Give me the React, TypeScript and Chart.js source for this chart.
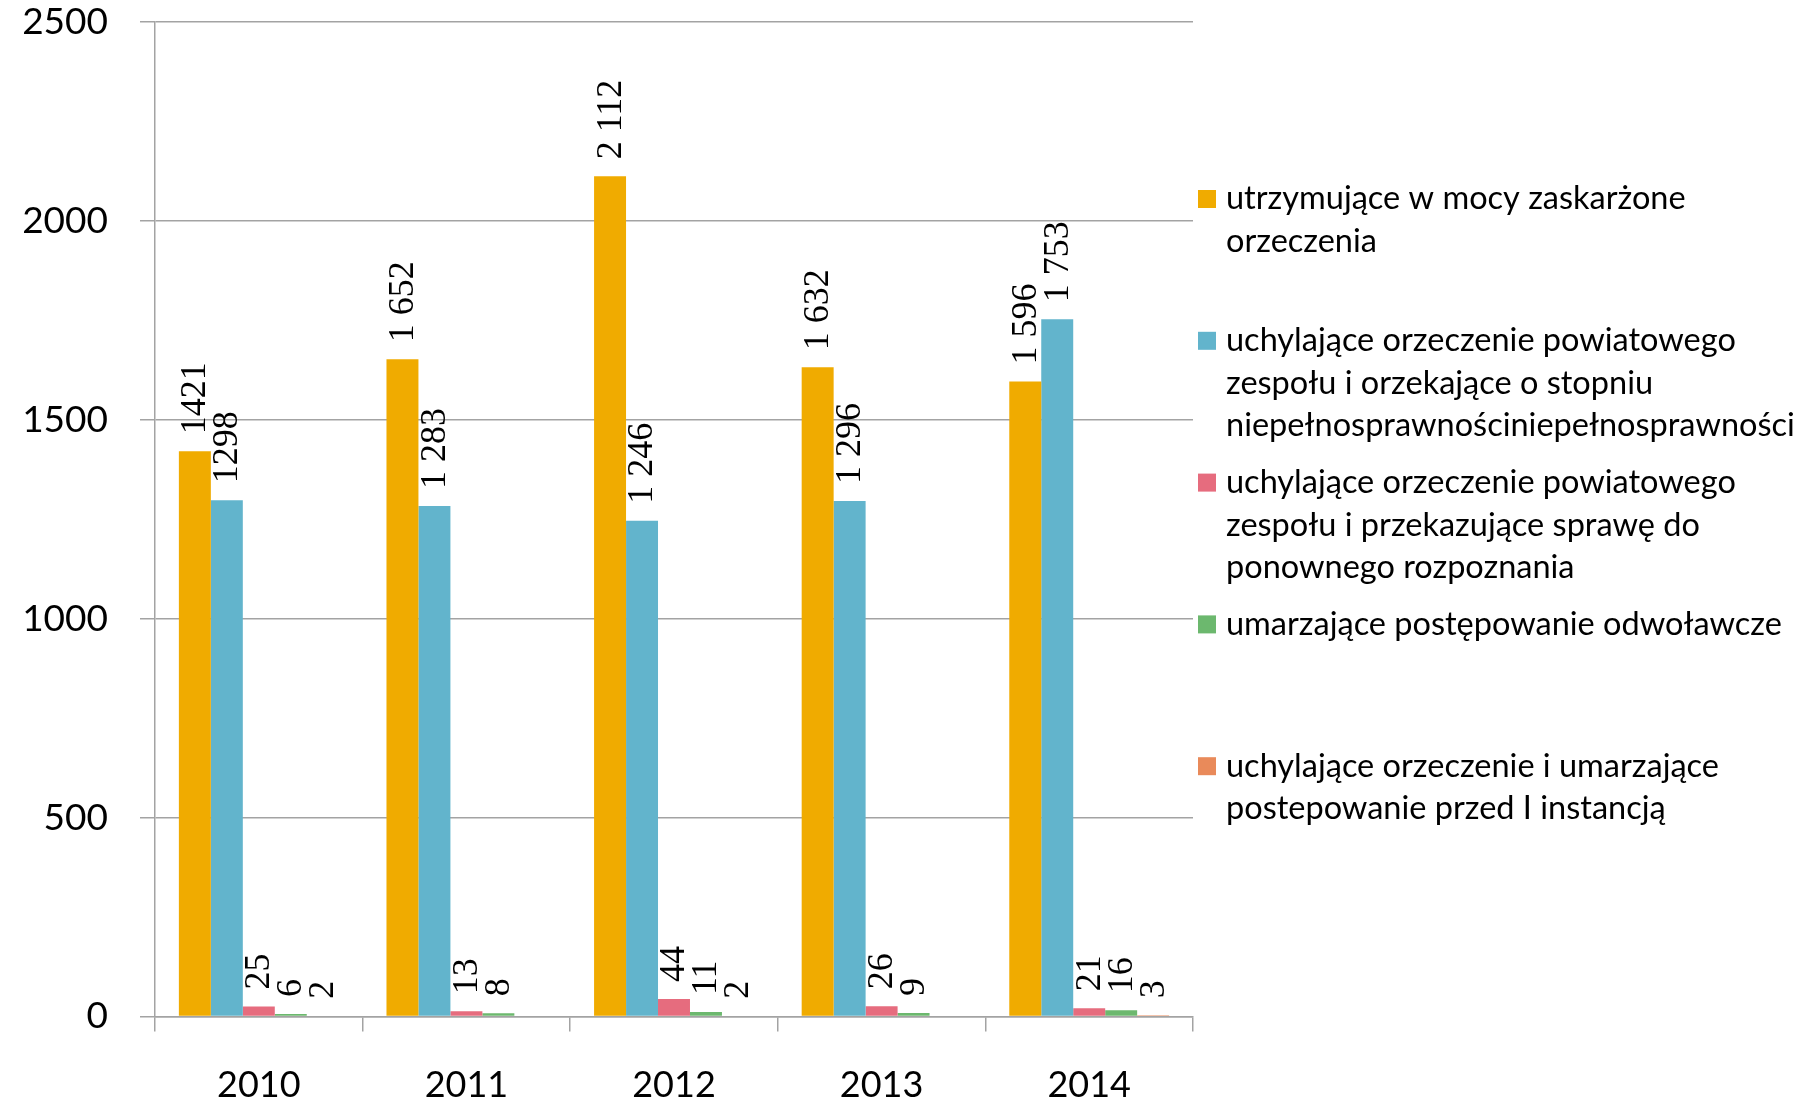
import React, { useEffect, useRef } from "react";
import { Chart, registerables } from "chart.js";

Chart.register(...registerables);

// ---- data ----
const years = ["2010", "2011", "2012", "2013", "2014"];
const utrzymujace = [1421, 1652, 2112, 1632, 1596];
const uchylajaceOrzekajace = [1298, 1283, 1246, 1296, 1753];
const uchylajacePrzekazujace = [25, 13, 44, 26, 21];
const umarzajaceOdwolawcze = [6, 8, 11, 9, 16];
const uchylajaceUmarzajace = [2, null, 2, null, 3];
const groupThousands = [false, true, true, true, true];
const yTickValues = [0, 500, 1000, 1500, 2000, 2500];

const seriesLabels: string[][] = [
  ["utrzymujące w mocy zaskarżone", "orzeczenia"],
  ["uchylające orzeczenie powiatowego", "zespołu i orzekające o stopniu", "niepełnosprawnościniepełnosprawności"],
  ["uchylające orzeczenie powiatowego", "zespołu i przekazujące sprawę do", "ponownego rozpoznania"],
  ["umarzające postępowanie odwoławcze"],
  ["uchylające orzeczenie i umarzające", "postepowanie przed I instancją"],
];
const seriesColors = ["#F0AB00", "#62B4CC", "#E66C7E", "#6CB86E", "#E98A5A"];
const seriesValues = [utrzymujace, uchylajaceOrzekajace, uchylajacePrzekazujace, umarzajaceOdwolawcze, uchylajaceUmarzajace];

const SANS = "Lato";
const GRID = "#A3A3A3";

function fmt(v: number, yearIdx: number): string {
  if (v >= 1000 && groupThousands[yearIdx]) {
    const s = String(v);
    return s.slice(0, s.length - 3) + " " + s.slice(s.length - 3);
  }
  return String(v);
}

const valueLabelPlugin = {
  id: "valueLabels",
  afterDatasetsDraw(chart: any) {
    const ctx = chart.ctx;
    ctx.save();
    ctx.font = "36px 'Liberation Serif', 'DejaVu Serif', serif";
    ctx.fillStyle = "#000";
    ctx.textAlign = "left";
    ctx.textBaseline = "middle";
    chart.data.datasets.forEach((ds: any, di: number) => {
      const meta = chart.getDatasetMeta(di);
      meta.data.forEach((bar: any, i: number) => {
        const v = ds.data[i];
        if (v == null) return;
        ctx.save();
        ctx.translate(bar.x + 1, bar.y - 17);
        ctx.rotate(-Math.PI / 2);
        ctx.fillText(fmt(v, i), 0, 0);
        ctx.restore();
      });
    });
    ctx.restore();
  },
};

const sideLegendPlugin = {
  id: "sideLegend",
  afterDraw(chart: any) {
    const ctx = chart.ctx;
    const boxX = chart.chartArea.right + 5;
    const textX = boxX + 28;
    const firstY = 199;
    const step = 141.8;
    const lineH = 42.5;
    const box = 18;
    ctx.save();
    ctx.font = `32.5px ${SANS}`;
    ctx.textAlign = "left";
    ctx.textBaseline = "middle";
    seriesLabels.forEach((lines, i) => {
      const y = firstY + i * step;
      ctx.fillStyle = seriesColors[i];
      ctx.fillRect(boxX, y - box / 2, box, box);
      ctx.fillStyle = "#000";
      lines.forEach((ln, k) => ctx.fillText(ln, textX, y + k * lineH));
    });
    ctx.restore();
  },
};

export default function App() {
  const ref = useRef<HTMLCanvasElement | null>(null);
  useEffect(() => {
    if (!ref.current) return;
    const chart = new Chart(ref.current, {
      type: "bar",
      data: {
        labels: years,
        datasets: seriesValues.map((vals, i) => ({
          label: seriesLabels[i].join(" "),
          data: vals as any,
          backgroundColor: seriesColors[i],
          borderWidth: 0,
          barPercentage: 1,
          categoryPercentage: 0.77,
        })),
      },
      options: {
        responsive: false,
        animation: false,
        layout: { padding: { top: 22, right: 609, left: 0, bottom: 0 } },
        plugins: {
          legend: { display: false },
          tooltip: { enabled: false },
        },
        scales: {
          x: {
            grid: {
              offset: true,
              drawOnChartArea: false,
              drawTicks: true,
              tickLength: 15,
              color: GRID,
              lineWidth: 1.5,
            },
            border: { display: true, color: GRID, width: 1.5 },
            ticks: { font: { family: SANS, size: 36 }, color: "#000", padding: 32 },
            afterFit: (s: any) => {
              s.height = 87.5;
            },
          },
          y: {
            min: 0,
            max: 2500,
            afterBuildTicks: (s: any) => {
              s.ticks = yTickValues.map((v) => ({ value: v }));
            },
            ticks: {
              font: { family: SANS, size: 37 },
              color: "#000",
              padding: 32,
              callback: (v: any) => String(v),
            },
            grid: { color: GRID, lineWidth: 1.5, tickLength: 15 },
            border: { display: true, color: GRID, width: 1.5 },
            afterFit: (s: any) => {
              s.width = 155;
              s.paddingTop = 0;
              s.paddingBottom = 0;
            },
          },
        },
      },
      plugins: [valueLabelPlugin, sideLegendPlugin],
    });
    return () => chart.destroy();
  }, []);
  return (
    <div style={{ position: "absolute", left: 0, top: 0, width: 1802, height: 1104, background: "#fff" }}>
      <canvas ref={ref} width={1802} height={1104} style={{ display: "block" }} />
    </div>
  );
}
